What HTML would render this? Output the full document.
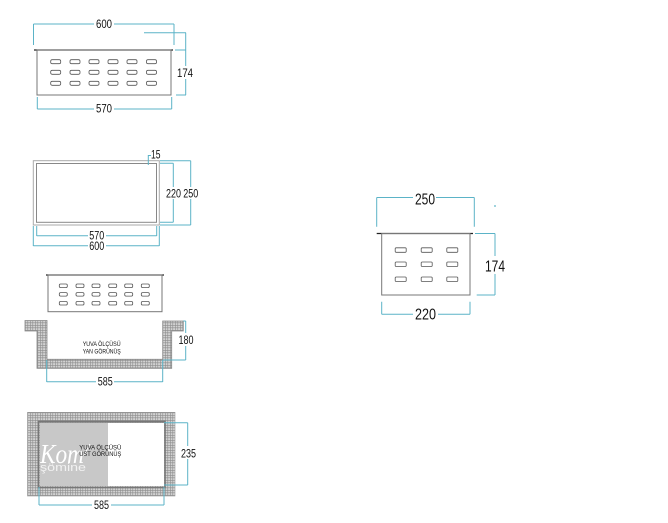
<!DOCTYPE html>
<html><head><meta charset="utf-8"><style>
html,body{margin:0;padding:0;background:#fff;width:668px;height:523px;overflow:hidden}
svg{display:block}
text{font-family:"Liberation Sans",Arial,sans-serif;fill:#111}
.d{stroke:#5bb3c7;stroke-width:1;fill:none}
.o{stroke:#777;stroke-width:1;fill:none}
.k{stroke:#222;stroke-width:1.3}
.h{stroke:#555;stroke-width:0.8;fill:#fff}
.t{font-size:11.5px}
.T{font-size:15.5px}
.s{font-size:6.2px}
</style></head><body>
<svg width="668" height="523" viewBox="0 0 668 523" xmlns="http://www.w3.org/2000/svg">
<defs>
<pattern id="hp" width="2.5" height="2.5" patternUnits="userSpaceOnUse">
<rect width="2.5" height="2.5" fill="#d2d2d2"/>
<path d="M0 0.3H2.5M0.3 0V2.5" stroke="#8c8c8c" stroke-width="0.6"/>
</pattern>
</defs>

<!-- ===== View 1 ===== -->
<path class="d" d="M33.5 24H94M114 24H174M33.5 24V45M174 24V45"/>
<text class="t" x="96" y="28" textLength="16" lengthAdjust="spacingAndGlyphs">600</text>
<line class="k" x1="34" y1="50" x2="173" y2="50"/>
<rect class="o" x="37" y="50" width="134" height="45"/>
<g class="h">
<rect x="50.7" y="59.7" width="10" height="4" rx="1.5"/><rect x="70" y="59.7" width="10" height="4" rx="1.5"/><rect x="89" y="59.7" width="10" height="4" rx="1.5"/><rect x="108" y="59.7" width="10" height="4" rx="1.5"/><rect x="127" y="59.7" width="10" height="4" rx="1.5"/><rect x="146.5" y="59.7" width="10" height="4" rx="1.5"/>
<rect x="50.7" y="70.3" width="10" height="4" rx="1.5"/><rect x="70" y="70.3" width="10" height="4" rx="1.5"/><rect x="89" y="70.3" width="10" height="4" rx="1.5"/><rect x="108" y="70.3" width="10" height="4" rx="1.5"/><rect x="127" y="70.3" width="10" height="4" rx="1.5"/><rect x="146.5" y="70.3" width="10" height="4" rx="1.5"/>
<rect x="50.7" y="81.3" width="10" height="4" rx="1.5"/><rect x="70" y="81.3" width="10" height="4" rx="1.5"/><rect x="89" y="81.3" width="10" height="4" rx="1.5"/><rect x="108" y="81.3" width="10" height="4" rx="1.5"/><rect x="127" y="81.3" width="10" height="4" rx="1.5"/><rect x="146.5" y="81.3" width="10" height="4" rx="1.5"/>
</g>
<path class="d" d="M144 32.7H186M175 50H186M176 95H186M185.7 32.7V66M185.7 79V95"/>
<text class="t" x="177" y="77" textLength="16" lengthAdjust="spacingAndGlyphs">174</text>
<path class="d" d="M37.3 109H94M114 109H171.7M37.3 97V109M171.7 97V109"/>
<text class="t" x="96" y="112.5" textLength="16" lengthAdjust="spacingAndGlyphs">570</text>

<!-- ===== View 2 ===== -->
<rect x="33.3" y="160.7" width="126" height="64.3" fill="none" stroke="#aaa" stroke-width="1"/>
<rect x="36.5" y="163.5" width="120" height="58.8" fill="none" stroke="#888" stroke-width="1"/>
<path class="d" d="M148.3 165V155.5H151"/>
<text class="t" x="151" y="158.5" textLength="9.5" lengthAdjust="spacingAndGlyphs">15</text>
<path class="d" d="M160 163.3H173.3M160 222.3H173.3M173.3 163.3V187M173.3 199V222.3"/>
<text class="t" x="166" y="197.5" textLength="15" lengthAdjust="spacingAndGlyphs">220</text>
<path class="d" d="M160 160.7H190.7M160 225H190.7M190.7 160.7V187M190.7 199V225"/>
<text class="t" x="183.3" y="197.5" textLength="15" lengthAdjust="spacingAndGlyphs">250</text>
<path class="d" d="M36.7 235.7H88M106 235.7H156.7M36.7 226V236M156.7 226V236"/>
<text class="t" x="89.3" y="239.5" textLength="15" lengthAdjust="spacingAndGlyphs">570</text>
<path class="d" d="M33.3 245.7H88M106 245.7H159.3M33.3 226V246M159.3 226V246"/>
<text class="t" x="89.3" y="250" textLength="15" lengthAdjust="spacingAndGlyphs">600</text>

<!-- ===== View 3 ===== -->
<line class="k" x1="46" y1="275" x2="164" y2="275"/>
<rect class="o" x="48" y="275" width="114" height="36.7"/>
<g class="h">
<rect x="59.3" y="284" width="8" height="3.5" rx="1.3"/><rect x="76" y="284" width="8" height="3.5" rx="1.3"/><rect x="92" y="284" width="8" height="3.5" rx="1.3"/><rect x="108.7" y="284" width="8" height="3.5" rx="1.3"/><rect x="124.7" y="284" width="8" height="3.5" rx="1.3"/><rect x="141.3" y="284" width="8" height="3.5" rx="1.3"/>
<rect x="59.3" y="292.6" width="8" height="3.5" rx="1.3"/><rect x="76" y="292.6" width="8" height="3.5" rx="1.3"/><rect x="92" y="292.6" width="8" height="3.5" rx="1.3"/><rect x="108.7" y="292.6" width="8" height="3.5" rx="1.3"/><rect x="124.7" y="292.6" width="8" height="3.5" rx="1.3"/><rect x="141.3" y="292.6" width="8" height="3.5" rx="1.3"/>
<rect x="59.3" y="301.5" width="8" height="3.5" rx="1.3"/><rect x="76" y="301.5" width="8" height="3.5" rx="1.3"/><rect x="92" y="301.5" width="8" height="3.5" rx="1.3"/><rect x="108.7" y="301.5" width="8" height="3.5" rx="1.3"/><rect x="124.7" y="301.5" width="8" height="3.5" rx="1.3"/><rect x="141.3" y="301.5" width="8" height="3.5" rx="1.3"/>
</g>
<path d="M25 320.5H47V359.3H162.7V321H183.3V331H171.7V368.3H37V331H25Z" fill="url(#hp)" stroke="#888" stroke-width="0.8"/>
<text class="s" x="82.7" y="346" textLength="38" lengthAdjust="spacingAndGlyphs">YUVA ÖLÇÜSÜ</text>
<text class="s" x="82.7" y="353.7" textLength="38" lengthAdjust="spacingAndGlyphs">YAN GÖRÜNÜŞ</text>
<path class="d" d="M183.3 321H185.7M163 360H185.7M185.7 321V333M185.7 346V360"/>
<text class="t" x="178.5" y="344" textLength="15" lengthAdjust="spacingAndGlyphs">180</text>
<path class="d" d="M46.7 360V382M162.7 360V382M46.7 381.7H96M114 381.7H162.7"/>
<text class="t" x="97.7" y="385.5" textLength="15" lengthAdjust="spacingAndGlyphs">585</text>

<!-- ===== View 4 ===== -->
<rect x="27.5" y="412.3" width="147.5" height="83.7" fill="url(#hp)" stroke="#999" stroke-width="0.6"/>
<rect x="38.5" y="421.5" width="126.5" height="66" fill="none" stroke="#777" stroke-width="1.6"/>
<rect x="40" y="423" width="124" height="63" fill="#fff"/>
<rect x="40" y="423" width="68" height="63" fill="#c8c8c8"/>
<text x="40" y="463" style="font-size:27px;font-style:italic;fill:#fff;font-family:'Liberation Serif',serif" textLength="44" lengthAdjust="spacingAndGlyphs">Kom</text>
<text x="84" y="456" style="font-size:18px;font-style:italic;fill:#fff;font-family:'Liberation Serif',serif">/</text>
<text x="40" y="471" style="font-size:11px;fill:#f2f2f2" textLength="46" lengthAdjust="spacingAndGlyphs">şömine</text>
<text class="s" x="79.3" y="449.3" textLength="42" lengthAdjust="spacingAndGlyphs">YUVA ÖLÇÜSÜ</text>
<text class="s" x="79.3" y="456" textLength="42" lengthAdjust="spacingAndGlyphs">ÜST GÖRÜNÜŞ</text>
<path class="d" d="M164 422.7H187.7M164 485H187.7M187.7 422.7V446M187.7 459V485"/>
<text class="t" x="181" y="457.5" textLength="15" lengthAdjust="spacingAndGlyphs">235</text>
<path class="d" d="M39 487V505M164 487V505M39 505H92M111 505H164"/>
<text class="t" x="94" y="509" textLength="15" lengthAdjust="spacingAndGlyphs">585</text>

<!-- ===== Right view ===== -->
<path class="d" d="M376.7 197.5H413M436 197.5H474.3M376.7 197.5V226.7M474.3 197.5V226.7"/>
<text class="T" x="415" y="204.5" textLength="20" lengthAdjust="spacingAndGlyphs">250</text>
<circle cx="495" cy="206" r="0.9" fill="#5bb3c7"/>
<line class="k" x1="376.7" y1="233.5" x2="473" y2="233.5"/>
<rect class="o" x="381.7" y="233.5" width="88.3" height="61.5"/>
<g class="h">
<rect x="395.2" y="247.8" width="11" height="4.5" rx="1"/><rect x="421.2" y="247.8" width="11" height="4.5" rx="1"/><rect x="446.8" y="247.8" width="11" height="4.5" rx="1"/>
<rect x="395.2" y="262" width="11" height="4.5" rx="1"/><rect x="421.2" y="262" width="11" height="4.5" rx="1"/><rect x="446.8" y="262" width="11" height="4.5" rx="1"/>
<rect x="395.2" y="277" width="11" height="4.5" rx="1"/><rect x="421.2" y="277" width="11" height="4.5" rx="1"/><rect x="446.8" y="277" width="11" height="4.5" rx="1"/>
</g>
<path class="d" d="M475 233.5H495M476.7 295H495M495 233.5V256M495 274V295"/>
<text class="T" x="485" y="271.5" textLength="20" lengthAdjust="spacingAndGlyphs">174</text>
<path class="d" d="M381.7 301.7V314.3M470 301.7V314.3M381.7 314.3H413M438 314.3H470"/>
<text class="T" x="415" y="319.5" textLength="21" lengthAdjust="spacingAndGlyphs">220</text>
</svg>
</body></html>
